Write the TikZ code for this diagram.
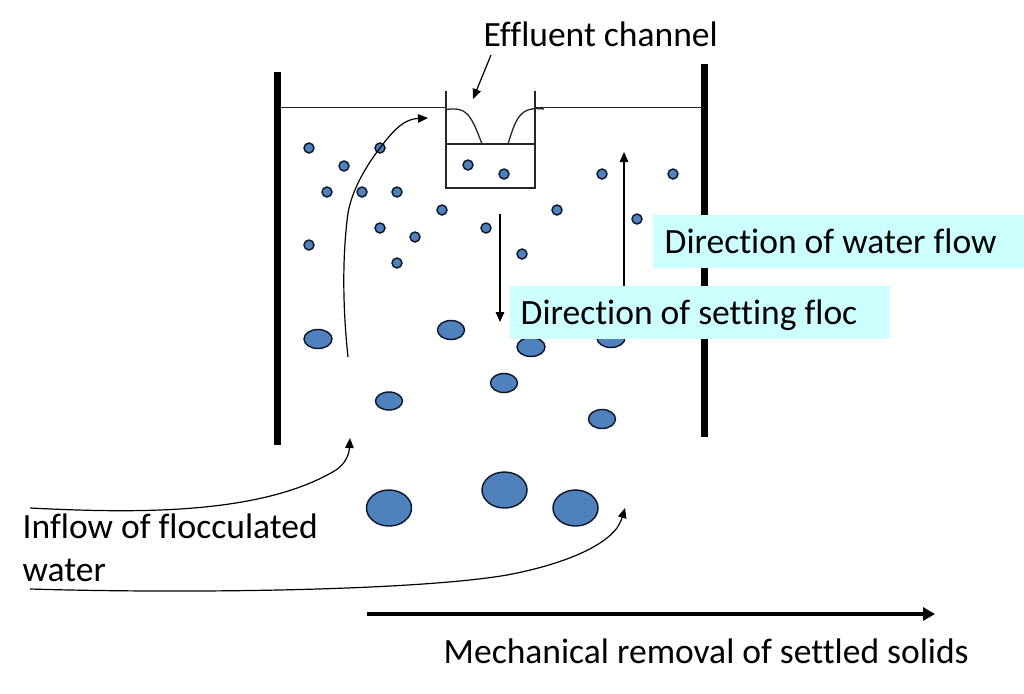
\documentclass[tikz,border=0pt]{standalone}
\usepackage{fontspec}
\setmainfont[Ligatures=NoCommon]{Carlito}
\usetikzlibrary{arrows.meta, shapes.geometric}
\definecolor{flocblue}{RGB}{79,129,189}
\definecolor{flocedge}{RGB}{10,20,40}
\definecolor{labelcyan}{RGB}{204,255,255}
\tikzset{
  % Tank wall
  wallline/.style={line width=0.07cm, black},
  % Thin lines of channel and water surface
  thinline/.style={line width=0.013cm, black!85},
  % Small floc
  smallfloc/.style={
    circle, minimum size=0.1cm, inner sep=0pt,
    fill=flocblue, draw=flocedge, line width=0.4pt
  },
  % Large floc
  bigfloc/.style={
    ellipse, inner sep=0pt,
    fill=flocblue, draw=flocedge, line width=0.4pt
  },
  % Arrow style
  arr/.style={
    -{Triangle[length=0.1cm,width=0.085cm]}, line width=0.012cm, color=black
  },
  % Thick removal arrow
  thickarr/.style={
    -{Triangle[length=0.12cm,width=0.13cm]}, line width=0.045cm, color=black
  },
  % Plain text label
  textlabel/.style={
    font=\fontsize{10.1}{12}\selectfont, text=black, inner sep=0pt, align=left
  },
  % Label on cyan band
  bandlabel/.style={
    font=\fontsize{10.1}{12}\selectfont, text=black, fill=labelcyan, anchor=west,
    minimum height=0.53cm, inner ysep=0pt, align=flush left,
    text height=0.29cm, text depth=0.05cm
  },
}
\begin{document}
\begin{tikzpicture}[x=0.01cm, y=-0.01cm]
  \useasboundingbox (0,0) rectangle (1024,693);
  % tank walls
  \draw[wallline] (277.5,72) -- (277.5,445);
  \draw[wallline] (704.5,64) -- (704.5,437);
  % effluent channel
  \coordinate (chtl) at (446,91);
  \coordinate (chtr) at (535,91);
  \coordinate (chbl) at (446,188);
  \coordinate (chbr) at (535,188);
  \coordinate (chml) at (446,144);
  \coordinate (chmr) at (535,144);
  \draw[thinline] (chtl) -- (chbl) -- (chbr) -- (chtr);
  \draw[thinline] (chml) -- (chmr);
  % water surface
  \coordinate (wl) at (280,107.5);
  \coordinate (wr) at (704,107.5);
  \draw[thinline] (wl) -- (446,107.5);
  \draw[thinline] (535,107.5) -- (wr);
  % weir overflow
  \draw[thinline] (446,109.5) .. controls (466,107) and (470,112) .. (482,144);
  \draw[thinline] (544,109) .. controls (520,106) and (516,118) .. (508,144);
  % small flocs
  \foreach \px/\py [count=\i] in {309/148, 344/166, 380/148, 327/192, 362/192, 397/192,
      442/210, 380/228, 415/237, 309/245, 397/263, 486/228, 522/254, 557/210,
      602/174, 637/219, 673/174, 468/165, 504/174}
    \node[smallfloc] (s\i) at (\px,\py) {};
  % large flocs
  \foreach \px/\py/\w/\h [count=\i] in {318/339/0.28/0.19, 451/330/0.27/0.19, 531/347/0.28/0.19,
      611/338/0.28/0.19, 504/383/0.27/0.19, 389/401/0.27/0.18, 602/419/0.27/0.19,
      389/508/0.45/0.36, 504.5/490/0.45/0.36, 575.5/508/0.45/0.36}
    \node[bigfloc, minimum width=\w cm, minimum height=\h cm] (b\i) at (\px,\py) {};
  % cyan labels
  \node[bandlabel, text width=3.48cm, inner xsep=0.12cm] (waterflow) at (652,241.5) {Direction of water flow};
  \node[bandlabel, text width=3.58cm, inner xsep=0.11cm] (setting) at (509,312.5) {Direction of setting floc};
  % other labels
  \node[textlabel, anchor=base west] (effluent) at (483,46) {Effluent channel};
  \node[textlabel, anchor=base west] (inflow) at (22,538) {Inflow of flocculated};
  \node[textlabel, anchor=base west] (inflowb) at (22,581.5) {water};
  \node[textlabel, anchor=base west] (removal) at (443,663) {Mechanical removal of settled solids};
  % arrows
  \coordinate (effa) at (491,55);
  \coordinate (effb) at (473,99);
  \draw[arr] (effa) -- (effb);
  \coordinate (upa) at (348,357);
  \coordinate (upb) at (428,118);
  \draw[arr] (upa) .. controls (344,320) and (341,265) .. (348,213) .. controls (352,190) and (366,166) .. (380,148) .. controls (395,128) and (405,119) .. (upb);
  \coordinate (dna) at (500,214);
  \coordinate (dnb) at (500,322);
  \draw[arr] (dna) -- (dnb);
  \coordinate (wfa) at (624,286);
  \coordinate (wfb) at (624,152);
  \draw[arr] (wfa) -- (wfb);
  \coordinate (ina) at (30,508);
  \coordinate (inb) at (350,438);
  \draw[arr] (ina) .. controls (130,513) and (260,516) .. (336,470) .. controls (345,464) and (349,455) .. (inb);
  \coordinate (inc) at (30,589);
  \coordinate (ind) at (625,508);
  \draw[arr] (inc) .. controls (200,594) and (420,590) .. (507,575) .. controls (555,566) and (600,550) .. (617,528) .. controls (621,522) and (623,515) .. (ind);
  \coordinate (rma) at (367,614);
  \coordinate (rmb) at (935,614);
  \draw[thickarr] (rma) -- (rmb);
\end{tikzpicture}
\end{document}
